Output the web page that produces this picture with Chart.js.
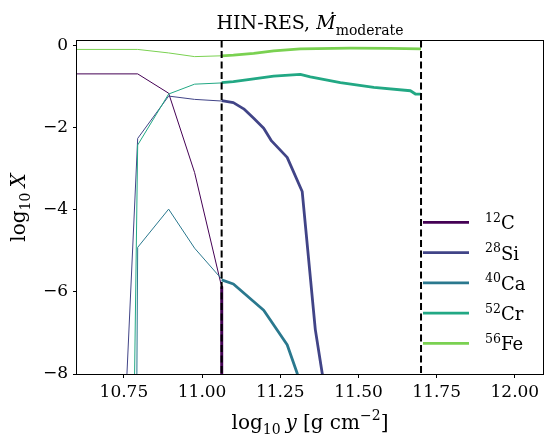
<!DOCTYPE html>
<html>
<head>
<meta charset="utf-8">
<script src="https://cdn.jsdelivr.net/npm/chart.js@4/dist/chart.umd.min.js"></script>
<style>
  html, body { margin: 0; padding: 0; background: #fff; }
  #wrap { width: 545px; height: 435px; }
</style>
</head>
<body>
<div id="wrap"><canvas id="chart" width="545" height="435"></canvas></div>
<script>
// abundance profiles: log10 X against log10 y (column depth)

const speciesSup = ['12', '28', '40', '52', '56'];
const speciesName = ['C', 'Si', 'Ca', 'Cr', 'Fe'];
const speciesColors = ['#440154', '#414487', '#2a788e', '#22a884', '#7ad151'];

// thin part, left of the first boundary
const thinX = [10.55, 10.794, 10.893, 10.976, 11.0625];
const c12Thin = [-0.70, -0.70, -1.17, -3.10, -5.88];
const si28Thin = [-43, -2.27, -1.24, -1.32, -1.36];
const ca40Thin = [-300, -4.92, -3.99, -4.94, -5.69];
const cr52Thin = [-140, -2.43, -1.19, -0.95, -0.92];
const fe56Thin = [-0.105, -0.105, -0.19, -0.28, -0.26];

// thick part, between the two boundaries
const c12ThickX = [11.0625, 11.063];
const c12Thick = [-5.88, -40];
const si28ThickX = [11.0625, 11.10, 11.133, 11.165, 11.197, 11.222, 11.272, 11.320, 11.362, 11.384, 11.40];
const si28Thick = [-1.35, -1.40, -1.55, -1.78, -2.02, -2.33, -2.73, -3.56, -6.92, -7.98, -8.7];
const ca40ThickX = [11.0625, 11.10, 11.197, 11.272, 11.304, 11.33];
const ca40Thick = [-5.71, -5.81, -6.45, -7.29, -7.98, -8.9];
const cr52ThickX = [11.0625, 11.10, 11.165, 11.229, 11.314, 11.346, 11.442, 11.549, 11.666, 11.682, 11.70];
const cr52Thick = [-0.915, -0.89, -0.82, -0.753, -0.713, -0.77, -0.915, -1.03, -1.11, -1.19, -1.19];
const fe56ThickX = [11.0625, 11.10, 11.165, 11.229, 11.314, 11.474, 11.60, 11.70];
const fe56Thick = [-0.26, -0.243, -0.2, -0.138, -0.09, -0.073, -0.08, -0.09];

const boundaries = [11.0625, 11.70];
const xTicks = [10.75, 11.00, 11.25, 11.50, 11.75, 12.00];
const yTicks = [-8, -6, -4, -2, 0];

const SERIF = '"DejaVu Serif", serif';

const pts = (xs, ys) => xs.map((x, i) => ({ x: x, y: ys[i] }));

const thinSets = [c12Thin, si28Thin, ca40Thin, cr52Thin, fe56Thin];
const thickSets = [[c12ThickX, c12Thick], [si28ThickX, si28Thick], [ca40ThickX, ca40Thick],
                   [cr52ThickX, cr52Thick], [fe56ThickX, fe56Thick]];

let datasets = [];
// boundaries on top
boundaries.forEach(b => {
  datasets.push({
    data: [{ x: b, y: -9 }, { x: b, y: 1 }],
    borderColor: '#000', borderWidth: 2, borderDash: [7, 3.5],
    pointRadius: 0, order: 0, clip: 0
  });
});
// later species drawn above earlier ones
for (let i = 0; i < 5; i++) {
  const base = (5 - i) * 2;
  datasets.push({
    data: pts(thickSets[i][0], thickSets[i][1]),
    borderColor: speciesColors[i], borderWidth: 2.8,
    pointRadius: 0, order: base - 1, clip: 0, borderJoinStyle: 'round'
  });
  datasets.push({
    data: pts(thinX, thinSets[i]),
    borderColor: speciesColors[i], borderWidth: 1,
    pointRadius: 0, order: base, clip: 0
  });
}

// draw a list of text runs starting at x on baseline y
function runs(ctx, list, x, y, measureOnly) {
  let w = 0;
  list.forEach(r => {
    ctx.font = r.font;
    const rw = ctx.measureText(r.t).width;
    if (!measureOnly) {
      ctx.fillText(r.t, x + w, y + (r.dy || 0));
      if (r.dot) {
        ctx.fillText('\u02D9', x + w + rw * 0.5, y - 3);
      }
    }
    w += rw + (r.gap || 0);
  });
  return w;
}

const decorations = {
  id: 'decorations',
  afterDatasetsDraw(chart) {
    const ctx = chart.ctx;
    const a = chart.chartArea;
    ctx.save();
    // frame
    ctx.strokeStyle = '#000';
    ctx.lineWidth = 1;
    ctx.strokeRect(Math.round(a.left) - 0.5, Math.round(a.top) - 0.5,
                   Math.round(a.right - a.left) + 1, Math.round(a.bottom - a.top) + 1);

    ctx.fillStyle = '#000';
    ctx.textBaseline = 'alphabetic';
    ctx.textAlign = 'left';

    // title
    const title = [
      { t: 'HIN-RES, ', font: '19px ' + SERIF },
      { t: 'M', font: 'italic 19px ' + SERIF, dot: true },
      { t: 'moderate', font: '14px ' + SERIF, dy: 6 }
    ];
    const cx = (a.left + a.right) / 2;
    let tw = runs(ctx, title, 0, 0, true);
    runs(ctx, title, cx - tw / 2, 28.5);

    // x label
    const xl = [
      { t: 'log', font: '20px ' + SERIF },
      { t: '10', font: '14px ' + SERIF, dy: 5, gap: 5 },
      { t: 'y', font: 'italic 20px ' + SERIF, gap: 6 },
      { t: '[g cm', font: '20px ' + SERIF },
      { t: '\u22122', font: '14px ' + SERIF, dy: -9 },
      { t: ']', font: '20px ' + SERIF }
    ];
    tw = runs(ctx, xl, 0, 0, true);
    runs(ctx, xl, cx - tw / 2, 429);

    // y label
    const yl = [
      { t: 'log', font: '20px ' + SERIF },
      { t: '10', font: '14px ' + SERIF, dy: 5, gap: 5 },
      { t: 'X', font: 'italic 20px ' + SERIF }
    ];
    tw = runs(ctx, yl, 0, 0, true);
    ctx.save();
    ctx.translate(25, (a.top + a.bottom) / 2);
    ctx.rotate(-Math.PI / 2);
    runs(ctx, yl, -tw / 2, 0);
    ctx.restore();

    // legend
    for (let i = 0; i < 5; i++) {
      const ly = 222.3 + i * 30.25;
      ctx.strokeStyle = speciesColors[i];
      ctx.lineWidth = 2.8;
      ctx.beginPath();
      ctx.moveTo(423, ly);
      ctx.lineTo(469, ly);
      ctx.stroke();
      runs(ctx, [
        { t: speciesSup[i], font: '12.5px ' + SERIF, dy: -7.5 },
        { t: speciesName[i], font: '18px ' + SERIF }
      ], 485, ly + 7);
    }
    ctx.restore();
  }
};

const tickStyle = { color: '#000', font: { family: SERIF, size: 17 } };

new Chart(document.getElementById('chart'), {
  type: 'line',
  data: { datasets: datasets },
  options: {
    responsive: false,
    animation: false,
    layout: { padding: { top: 41, right: 2, left: 0, bottom: 0 } },
    plugins: { legend: { display: false }, tooltip: { enabled: false }, title: { display: false } },
    elements: { line: { tension: 0 } },
    scales: {
      x: {
        type: 'linear', min: 10.6, max: 12.09,
        afterBuildTicks: s => { s.ticks = xTicks.map(v => ({ value: v })); },
        afterFit: s => { s.height = 61; },
        ticks: Object.assign({}, tickStyle, { padding: 4, maxRotation: 0, callback: v => v.toFixed(2) }),
        grid: { drawOnChartArea: false, drawTicks: true, tickLength: 4, color: '#000', tickColor: '#000', lineWidth: 1 },
        border: { display: false }
      },
      y: {
        type: 'linear', min: -8, max: 0.1,
        afterBuildTicks: s => { s.ticks = yTicks.map(v => ({ value: v })); },
        afterFit: s => { s.width = 77; },
        ticks: Object.assign({}, tickStyle, { padding: 5, callback: v => v < 0 ? '\u2212' + Math.abs(v) : String(v) }),
        grid: { drawOnChartArea: false, drawTicks: true, tickLength: 4, color: '#000', tickColor: '#000', lineWidth: 1 },
        border: { display: false }
      }
    }
  },
  plugins: [decorations]
});
</script>
</body>
</html>
